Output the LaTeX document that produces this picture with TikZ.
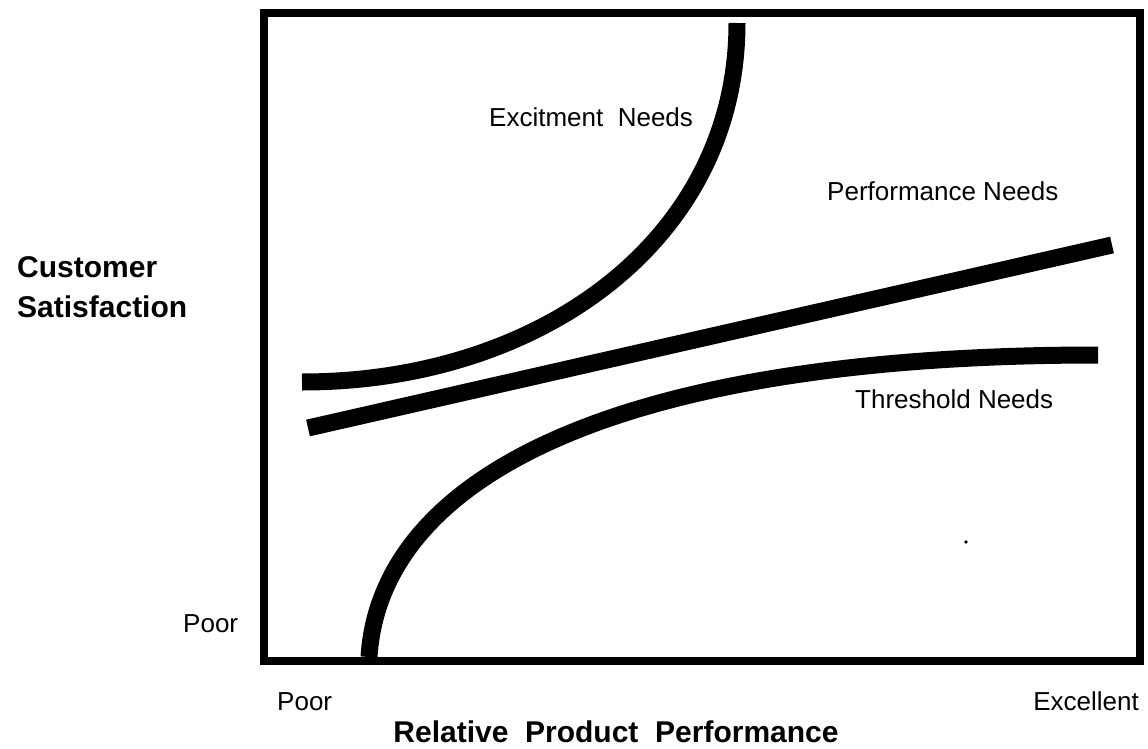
\documentclass[tikz,border=0pt]{standalone}
\usepackage{fontspec}
\setmainfont{Liberation Sans}
\usetikzlibrary{positioning}

\tikzset{
  need/.style={line width=17pt, line cap=butt},
  lbl/.style={inner sep=0pt, font=\fontsize{26}{30}\selectfont},
  axlbl/.style={inner sep=0pt, font=\fontsize{30}{36}\selectfont\bfseries}
}

\begin{document}
\begin{tikzpicture}[x=1pt,y=-1pt]
        \useasboundingbox (0,0) rectangle (1148,749);

        %\draw[help lines] (0,0) grid[step=50] (1148,749);

        % frame
        \draw[line width=8pt] (264,13) rectangle (1140,661);

        % the three need curves
        \draw[need] (302,382) .. controls (540,382) and (737,240) .. (737,23);
        \draw[need] (308,428) -- (1112,245);
        \draw[need] (369,657) .. controls (380,480) and (610,355) .. (1098,355);

        \fill (966,542) circle (1.8pt);

        \node[lbl, anchor=base west] (excite) at (489,127) {Excitment\ \ Needs};
        \node[lbl, anchor=base west] (perf) at (827,200) {Performance Needs};
        \node[lbl, anchor=base west] (thresh) at (855,408) {Threshold Needs};

        % axes
        \node[axlbl, anchor=base west] (cust) at (17,277) {Customer};
        \node[axlbl, anchor=base west] (satis) at (17,317) {Satisfaction};
        \node[lbl, anchor=base west] (poory) at (183,632) {Poor};
        \node[lbl, anchor=base west] (poorx) at (277,710) {Poor};
        \node[lbl, anchor=base east] (excel) at (1139,710) {Excellent};
        \node[axlbl, anchor=base] (relperf) at (616,742) {Relative\ \ Product\ \ Performance};
\end{tikzpicture}
\end{document}
